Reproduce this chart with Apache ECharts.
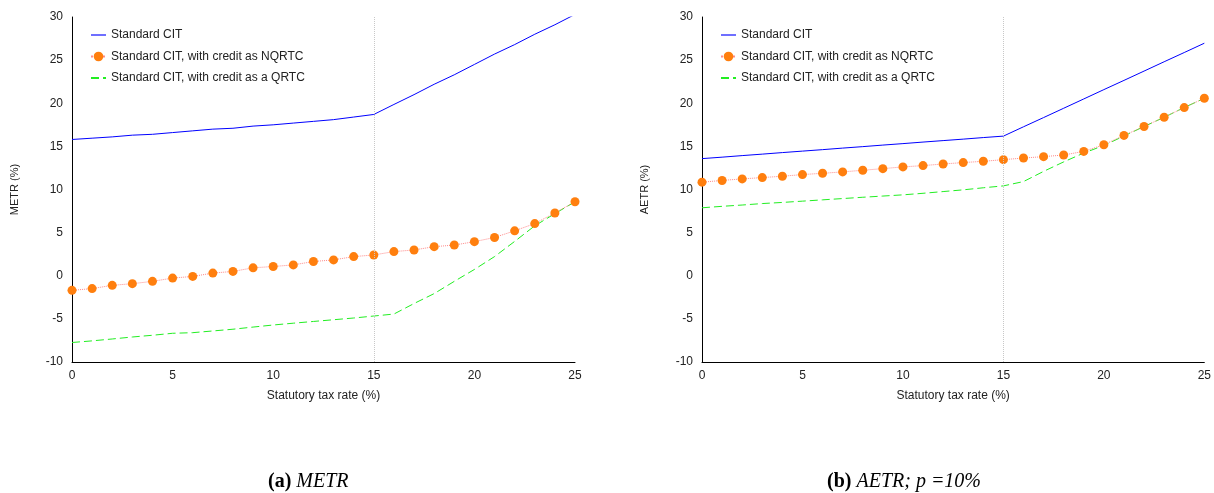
<!DOCTYPE html>
<html>
<head>
<meta charset="utf-8">
<script src="https://cdn.jsdelivr.net/npm/echarts@6/dist/echarts.min.js"></script>
<style>
  html, body { margin: 0; padding: 0; background: #fff; }
  #main { width: 1214px; height: 493px; }
</style>
</head>
<body>
<div id="main"></div>
<script>
var chartDom = document.getElementById('main');
var myChart = echarts.init(chartDom);
var option;

// statutory tax rate (%)
var rates = [0, 1, 2, 3, 4, 5, 6, 7, 8, 9, 10, 11, 12, 13, 14, 15, 16, 17, 18, 19, 20, 21, 22, 23, 24, 25];
var seriesNames = [
    'Standard CIT',
    'Standard CIT, with credit as NQRTC',
    'Standard CIT, with credit as a QRTC'
];

// (a) METR
var metrStandard = [15.8, 15.95, 16.1, 16.3, 16.4, 16.6, 16.8, 17.0, 17.1, 17.35, 17.5, 17.7, 17.9, 18.1, 18.4, 18.7,
    19.86, 21.0, 22.2, 23.3, 24.5, 25.7, 26.8, 28.0, 29.1, 30.3];
var metrNqrtc = [-1.69, -1.49, -1.11, -0.92, -0.65, -0.27, -0.08, 0.31, 0.5, 0.92, 1.07, 1.26, 1.65, 1.84, 2.22, 2.41,
    2.8, 2.99, 3.37, 3.56, 3.95, 4.44, 5.21, 6.05, 7.28, 8.58];
var metrQrtc = [-7.74, -7.55, -7.33, -7.1, -6.9, -6.67, -6.6, -6.4, -6.2, -5.95, -5.71, -5.5, -5.3, -5.1, -4.9, -4.67,
    -4.44, -3.22, -2.07, -0.65, 0.73, 2.22, 3.98, 5.79, 7.2, 8.58];

// (b) AETR, p = 10%
var aetrStandard = [13.58, 13.75, 13.93, 14.1, 14.28, 14.45, 14.62, 14.8, 14.97, 15.15, 15.32, 15.5, 15.67, 15.84, 16.02, 16.19,
    17.27, 18.34, 19.42, 20.5, 21.58, 22.65, 23.73, 24.81, 25.88, 26.96];
var aetrNqrtc = [10.85, 11.05, 11.23, 11.38, 11.54, 11.73, 11.88, 12.04, 12.23, 12.42, 12.62, 12.77, 12.96, 13.12, 13.27, 13.46,
    13.65, 13.81, 14.0, 14.42, 15.19, 16.27, 17.31, 18.38, 19.5, 20.58];
var aetrQrtc = [7.88, 8.05, 8.2, 8.37, 8.5, 8.65, 8.8, 8.95, 9.1, 9.24, 9.38, 9.56, 9.76, 9.96, 10.2, 10.42,
    10.92, 12.1, 13.2, 14.23, 15.1, 16.2, 17.3, 18.38, 19.5, 20.58];

var yTicks = { min: -10, max: 30, interval: 5 };
var textColor = '#222';

function pairs(ys) {
    return rates.map(function (r, i) { return [r, ys[i]]; });
}

function xAxisFor(grid) {
    return {
        type: 'value', gridIndex: grid, min: 0, max: 25, interval: 5,
        name: 'Statutory tax rate (%)', nameLocation: 'middle', nameGap: 28,
        nameTextStyle: { color: textColor, fontSize: 12, fontFamily: 'Liberation Sans' },
        axisLine: { onZero: false, lineStyle: { color: '#000', width: 1 } },
        axisTick: { show: false },
        axisLabel: { color: textColor, fontSize: 12, margin: 8, fontFamily: 'Liberation Sans' },
        splitLine: { show: false }
    };
}

function yAxisFor(grid, name) {
    return {
        type: 'value', gridIndex: grid, min: yTicks.min, max: yTicks.max, interval: yTicks.interval,
        name: name, nameLocation: 'middle', nameGap: 52,
        nameTextStyle: { color: textColor, fontSize: 11, fontFamily: 'Liberation Sans' },
        axisLine: { show: true, lineStyle: { color: '#000', width: 1 } },
        axisTick: { show: false },
        axisLabel: { color: textColor, fontSize: 12, margin: 9, fontFamily: 'Liberation Sans' },
        splitLine: { show: false }
    };
}

function seriesFor(grid, std, nq, q) {
    return [
        {
            name: seriesNames[0], type: 'line', xAxisIndex: grid, yAxisIndex: grid,
            data: pairs(std), symbol: 'none',
            lineStyle: { color: '#0000ff', width: 1 }, itemStyle: { color: '#0000ff' },
            markLine: {
                silent: true, symbol: 'none', label: { show: false },
                lineStyle: { color: '#c8c8c8', type: 'dotted', width: 1 },
                data: [{ xAxis: 15 }]
            }
        },
        {
            name: seriesNames[1], type: 'line', xAxisIndex: grid, yAxisIndex: grid,
            data: pairs(nq), symbol: 'circle', symbolSize: 9,
            lineStyle: { color: '#ff8a8a', width: 1, type: 'dotted' },
            itemStyle: { color: '#ff7f0e' }
        },
        {
            name: seriesNames[2], type: 'line', xAxisIndex: grid, yAxisIndex: grid,
            data: pairs(q), symbol: 'none',
            lineStyle: { color: '#22ee22', width: 1, type: [8, 4] }, itemStyle: { color: '#22ee22' },
            z: 1
        }
    ];
}

function legendAt(left) {
    return {
        orient: 'vertical', left: left, top: 24, itemWidth: 15, itemHeight: 12, itemGap: 9.5,
        data: [
            { name: seriesNames[0], itemStyle: { color: 'transparent', borderWidth: 0 }, lineStyle: { color: '#6f6fff', width: 2 } },
            { name: seriesNames[1], itemStyle: { color: '#ff7f0e' } },
            { name: seriesNames[2], itemStyle: { color: 'transparent', borderWidth: 0 } }
        ],
        textStyle: { color: textColor, fontSize: 12, fontFamily: 'Liberation Sans' }
    };
}

var captionRich = {
    b: { fontWeight: 'bold', fontStyle: 'normal', fontSize: 20, fontFamily: 'Liberation Serif', color: '#000' },
    i: { fontWeight: 'normal', fontStyle: 'italic', fontSize: 20, fontFamily: 'Liberation Serif', color: '#000' }
};

option = {
    animation: false,
    backgroundColor: '#fff',
    title: [
        { left: 263, top: 467, text: '{b|(a)} {i|METR}', textStyle: { fontWeight: 'normal', rich: captionRich } },
        { left: 822, top: 467, text: '{b|(b)} {i|AETR; p =10%}', textStyle: { fontWeight: 'normal', rich: captionRich } }
    ],
    legend: [legendAt(85), legendAt(715)],
    grid: [
        { left: 72, right: 639, top: 17, bottom: 131 },
        { left: 702, right: 9, top: 17, bottom: 131 }
    ],
    xAxis: [xAxisFor(0), xAxisFor(1)],
    yAxis: [yAxisFor(0, 'METR (%)'), yAxisFor(1, 'AETR (%)')],
    series: seriesFor(0, metrStandard, metrNqrtc, metrQrtc).concat(seriesFor(1, aetrStandard, aetrNqrtc, aetrQrtc))
};

option && myChart.setOption(option);
</script>
</body>
</html>
